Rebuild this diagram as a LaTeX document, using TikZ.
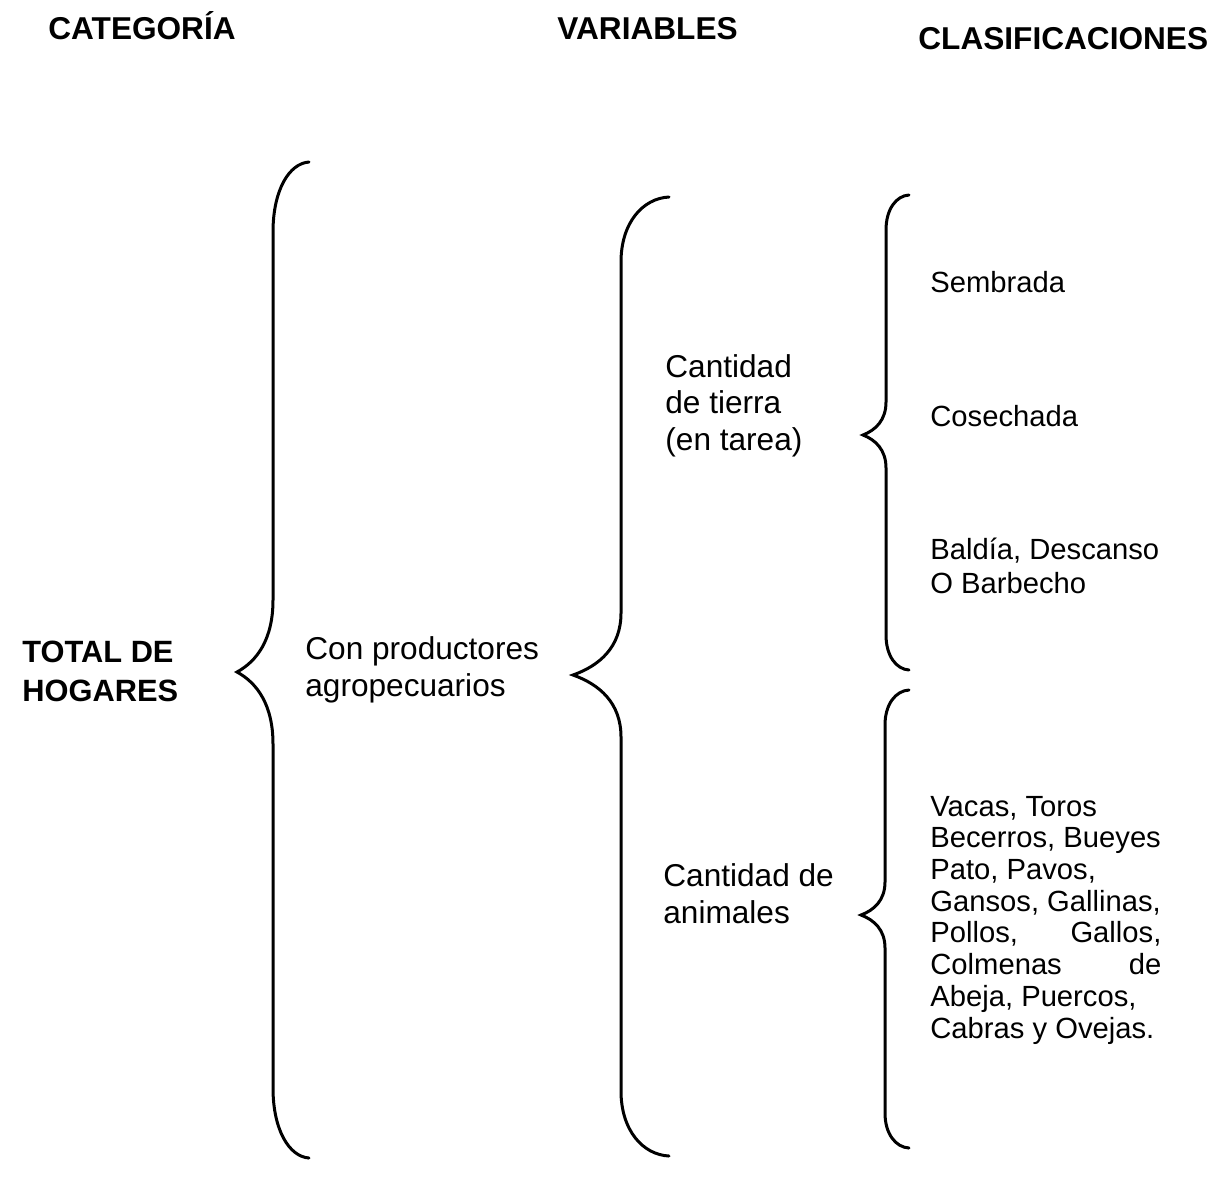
\documentclass[tikz,border=0pt]{standalone}
\usepackage{fontspec}
\setmainfont{Liberation Sans}
\usetikzlibrary{positioning}

% #1 stem x, #2 top y, #3 tip y, #4 bottom y, #5 arm width, #6 hook height, #7 tip height
\newcommand{\drawbrace}[7]{%
  \draw[bracket] ({#1+#5},#2) .. controls ({#1+0.45*#5},{#2+0.02*#6}) and (#1,{#2+0.4*#6}) .. (#1,{#2+#6})
    -- (#1,{#3-#7}) .. controls (#1,{#3-0.45*#7}) and ({#1-0.45*#5},{#3-0.15*#7}) .. ({#1-#5},#3)
    .. controls ({#1-0.45*#5},{#3+0.15*#7}) and (#1,{#3+0.45*#7}) .. (#1,{#3+#7})
    -- (#1,{#4-#6}) .. controls (#1,{#4-0.4*#6}) and ({#1+0.45*#5},{#4-0.02*#6}) .. ({#1+#5},#4);}

\begin{document}
\begin{tikzpicture}[
    x=0.5pt, y=-0.5pt,
    head/.style={font=\bfseries\fontsize{15.8}{18}\selectfont, anchor=base west, inner sep=0pt},
    label/.style={font=\fontsize{15.8}{18.2}\selectfont, align=left, anchor=base west, inner sep=0pt},
    small/.style={label, font=\fontsize{14.6}{17}\selectfont},
    bracket/.style={line width=1.5pt, line cap=round}
  ]
    \path[use as bounding box] (0,0) rectangle (1219,1184);

    % Column heads
    \node[head] (cathead) at (48,39) {CATEGORÍA};
    \node[head] (varhead) at (557,39) {VARIABLES};
    \node[head] (clashead) at (918,49) {CLASIFICACIONES};

    % Braces
    \drawbrace{273}{162}{672}{1158}{36}{70}{72}
    \drawbrace{621}{197}{675}{1156}{48}{65}{62}
    \drawbrace{886}{195}{435}{670}{23}{35}{33}
    \drawbrace{885}{690}{915}{1148}{24}{35}{33}

    % Category and variables (base = last line)
    \node[label, font=\bfseries\fontsize{15.4}{19.5}\selectfont] (total) at (22,701) {TOTAL DE\\HOGARES};
    \node[label] (productores) at (305,696) {Con productores\\agropecuarios};
    \node[label] (tierra) at (665,450) {Cantidad\\de tierra\\(en tarea)};
    \node[label] (animales) at (663,923) {Cantidad de\\animales};

    % Classifications
    \node[small] (sembrada) at (930,292) {Sembrada};
    \node[small] (cosechada) at (930,426) {Cosechada};
    \node[small] (baldia) at (930,593) {Baldía, Descanso\\O Barbecho};
    \node[small, font=\fontsize{14.6}{15.85}\selectfont] (especies) at (930,1038) {Vacas, Toros\\
      Becerros, Bueyes\\
      Pato, Pavos,\\
      Gansos, Gallinas,\\
      \makebox[115.5pt][s]{Pollos, Gallos,}\\
      \makebox[115.5pt][s]{Colmenas de}\\
      Abeja, Puercos,\\
      Cabras y Ovejas.};
\end{tikzpicture}
\end{document}
